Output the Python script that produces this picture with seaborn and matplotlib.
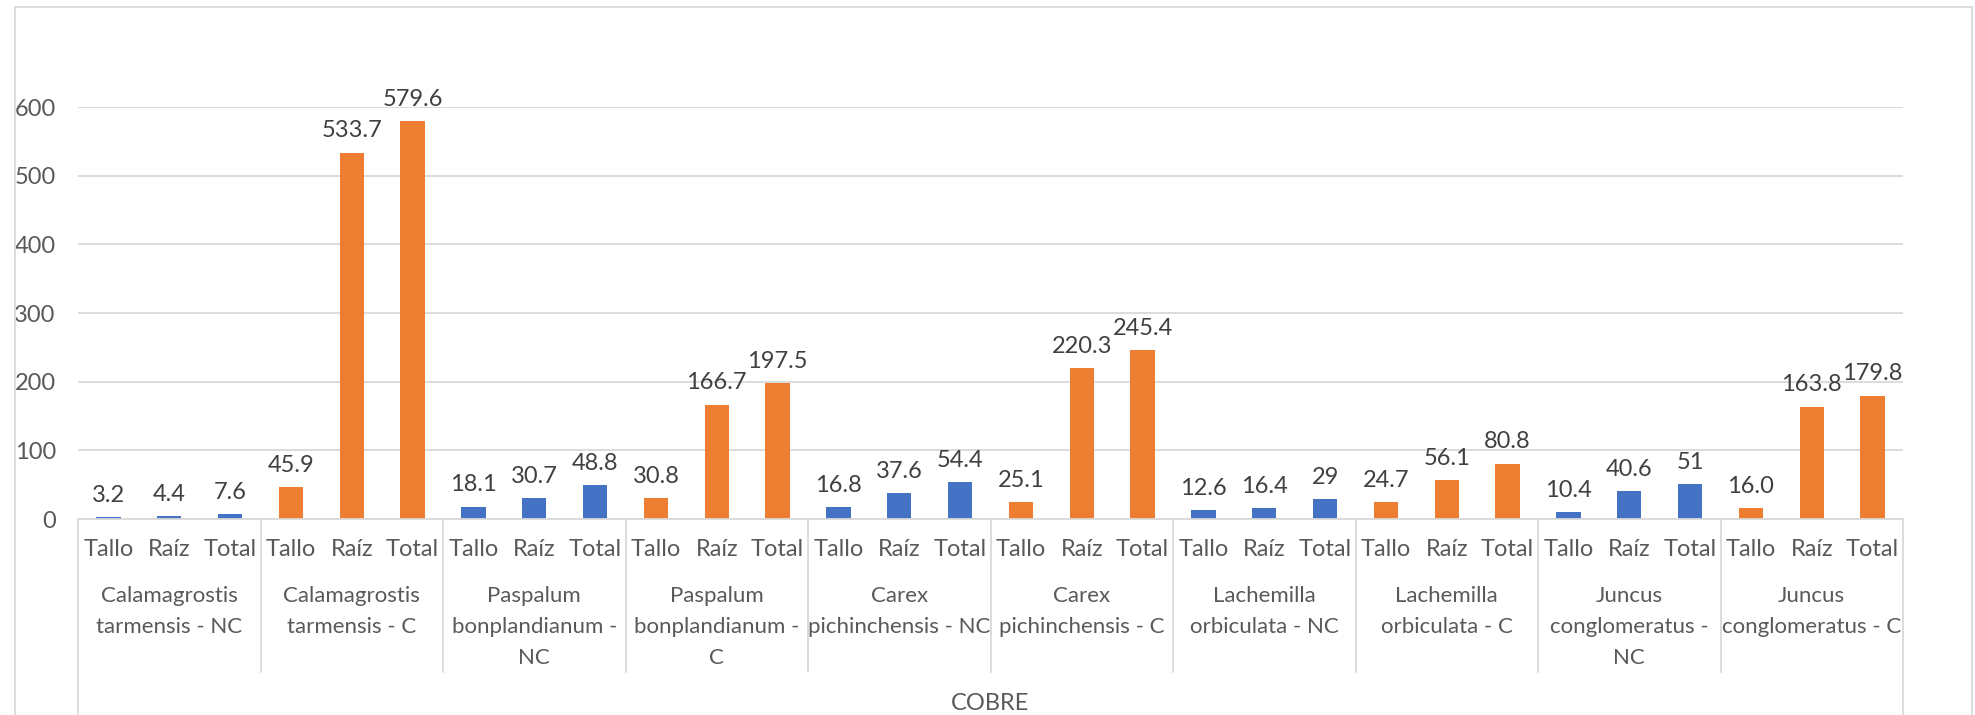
import pandas as pd
import matplotlib
matplotlib.use("Agg")
import matplotlib.pyplot as plt
from matplotlib.patches import Rectangle
import seaborn as sns

# ------------------------------------------
# Datos
# ------------------------------------------
partes = ["Tallo", "Raíz", "Total"]
especies = [
    "Calamagrostis\ntarmensis - NC",
    "Calamagrostis\ntarmensis - C",
    "Paspalum\nbonplandianum -\nNC",
    "Paspalum\nbonplandianum -\nC",
    "Carex\npichinchensis - NC",
    "Carex\npichinchensis - C",
    "Lachemilla\norbiculata - NC",
    "Lachemilla\norbiculata - C",
    "Juncus\nconglomeratus -\nNC",
    "Juncus\nconglomeratus - C",
]
tratamiento = ["NC", "C", "NC", "C", "NC", "C", "NC", "C", "NC", "C"]
valores = [
    [3.2, 4.4, 7.6],
    [45.9, 533.7, 579.6],
    [18.1, 30.7, 48.8],
    [30.8, 166.7, 197.5],
    [16.8, 37.6, 54.4],
    [25.1, 220.3, 245.4],
    [12.6, 16.4, 29],
    [24.7, 56.1, 80.8],
    [10.4, 40.6, 51],
    [16.0, 163.8, 179.8],
]
etiquetas = [
    ["3.2", "4.4", "7.6"],
    ["45.9", "533.7", "579.6"],
    ["18.1", "30.7", "48.8"],
    ["30.8", "166.7", "197.5"],
    ["16.8", "37.6", "54.4"],
    ["25.1", "220.3", "245.4"],
    ["12.6", "16.4", "29"],
    ["24.7", "56.1", "80.8"],
    ["10.4", "40.6", "51"],
    ["16.0", "163.8", "179.8"],
]
metal = "COBRE"

colores = {"NC": "#4472C4", "C": "#ED7D31"}

filas = []
for g, esp in enumerate(especies):
    for p, parte in enumerate(partes):
        filas.append({"id": f"{g}-{parte}", "parte": parte, "trat": tratamiento[g],
                      "valor": valores[g][p], "etiqueta": etiquetas[g][p]})
df = pd.DataFrame(filas)

# ------------------------------------------
# Figura
# ------------------------------------------
sns.set_style("white")
plt.rcParams["font.family"] = ["Lato", "DejaVu Sans"]
FS = 17

W, H = 1975, 715
fig = plt.figure(figsize=(W / 100, H / 100), dpi=100)
x0, x1, y0, y1 = 78, 1903, 519, 107  # caja del area de trazado (px)
ax = fig.add_axes([x0 / W, 1 - y0 / H, (x1 - x0) / W, (y0 - y1) / H])

sns.barplot(data=df, x="id", y="valor", hue="trat", palette=colores, dodge=False,
            width=0.4, saturation=1, errorbar=None, legend=False, linewidth=0, ax=ax)

ax.set_ylim(0, 600)
ax.set_xlim(-0.5, len(df) - 0.5)
ax.set_yticks(range(0, 601, 100))
ax.yaxis.grid(True, color="#D9D9D9", lw=1.3)
ax.set_axisbelow(True)
ax.tick_params(axis="y", length=0, pad=16, labelsize=FS, labelcolor="#595959")
ax.set_xticks([])
ax.set_xlabel("")
ax.set_ylabel("")
for s in ["top", "right", "left"]:
    ax.spines[s].set_visible(False)
ax.spines["bottom"].set_color("#D9D9D9")
ax.spines["bottom"].set_linewidth(1.3)

# etiquetas de datos
for i, row in df.iterrows():
    ax.annotate(row["etiqueta"], (i, row["valor"]), xytext=(0, 8), textcoords="offset points",
                ha="center", va="bottom", fontsize=FS, color="#404040")


def fy(px):
    # fila en pixeles -> fraccion de ejes
    return (y0 - px) / (y0 - y1)


trans = ax.get_xaxis_transform()
# eje de categorias multinivel
for i, row in df.iterrows():
    ax.text(i, fy(550), row["parte"], transform=trans, ha="center", va="center",
            fontsize=FS, color="#595959")
for g, esp in enumerate(especies):
    ax.text(g * 3 + 1, fy(586), esp, transform=trans, ha="center", va="top",
            fontsize=16, color="#595959", linespacing=1.7)
ax.text((len(df) - 1) / 2, fy(703), metal, transform=trans, ha="center", va="center",
        fontsize=FS, color="#595959")

for k in range(len(especies) + 1):
    xs = k * 3 - 0.5
    fin = 720 if k in (0, len(especies)) else 672
    ax.plot([xs, xs], [fy(519), fy(fin)], transform=trans, color="#D9D9D9",
            lw=1.3, clip_on=False)

# borde del grafico
fig.patches.append(Rectangle((15 / W, -0.01), (1972 - 15) / W, 1 - 7 / H + 0.01,
                             transform=fig.transFigure, fill=False,
                             edgecolor="#D9D9D9", lw=1.3))

fig.savefig("out.png", dpi=100)
